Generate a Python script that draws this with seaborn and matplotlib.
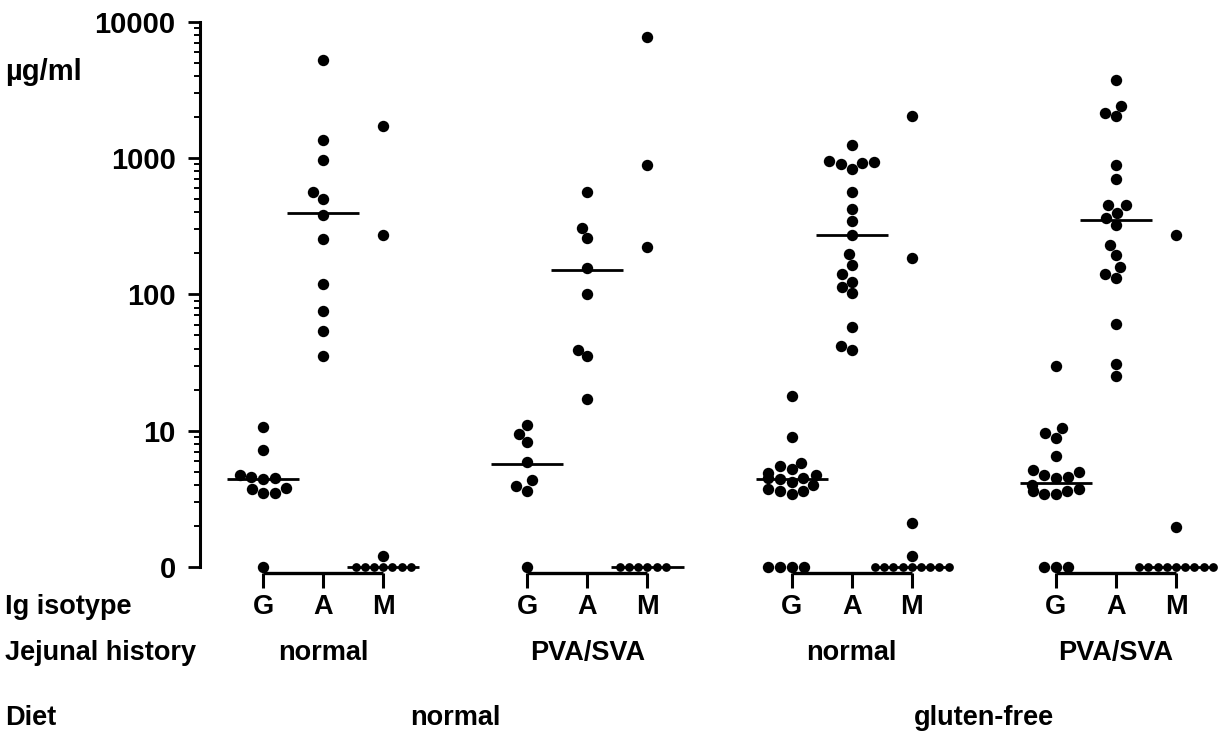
import numpy as np
import pandas as pd
import matplotlib
matplotlib.use("Agg")
import matplotlib.pyplot as plt
from matplotlib import transforms
from matplotlib.ticker import FixedLocator, FixedFormatter, NullFormatter
import seaborn as sns

# ---------------- data ----------------
history_labels = ["normal", "PVA/SVA", "normal", "PVA/SVA"]
diet_labels = ["normal", "gluten-free"]
isotypes = ["G", "A", "M"]
y_tick_values = [1, 10, 100, 1000, 10000]
y_tick_labels = ["0", "10", "100", "1000", "10000"]

g_values = [
    [10.7, 7.2, 4.7, 4.6, 4.5, 4.4, 3.8, 3.7, 3.5, 3.5, 0],
    [10.9, 9.5, 8.3, 5.9, 4.3, 3.9, 3.6, 0],
    [18.0, 8.9, 5.8, 5.5, 5.2, 4.9, 4.7, 4.5, 4.5, 4.4, 4.2, 4.0, 3.7, 3.6, 3.6, 3.4, 0, 0, 0, 0],
    [30.0, 10.4, 9.6, 8.8, 6.5, 5.1, 5.0, 4.7, 4.6, 4.5, 4.0, 3.7, 3.6, 3.6, 3.4, 3.4, 0, 0, 0],
]
a_values = [
    [5230, 1360, 975, 565, 505, 380, 257, 119, 76, 54, 35],
    [566, 308, 260, 156, 101, 39, 35, 17],
    [1240, 950, 930, 920, 900, 830, 566, 427, 343, 275, 199, 165, 140, 124, 113, 102, 58, 42, 39],
    [3730, 2410, 2160, 2030, 884, 706, 455, 452, 397, 365, 325, 232, 196, 158, 142, 132, 61, 31, 25],
]
m_values = [
    [1710, 273, 1.2, 0, 0, 0, 0, 0, 0, 0],
    [7770, 884, 222, 0, 0, 0, 0, 0, 0],
    [2040, 186, 2.1, 1.2, 0, 0, 0, 0, 0, 0, 0, 0, 0],
    [275, 1.95, 0, 0, 0, 0, 0, 0, 0, 0, 0],
]
g_medians = [4.4, 5.7, 4.4, 4.15]
a_medians = [397, 150, 275, 354]
m_medians = [0, 0, 0, 0]

ZERO_AT = 1.0          # "0" is drawn at the foot of the log axis
GROUP_STEP = 4.4       # spacing between the four G-A-M blocks

# ---------------- tidy table ----------------
rows = []
for gi in range(4):
    for ji, vals in enumerate([g_values[gi], a_values[gi], m_values[gi]]):
        for v in vals:
            rows.append(dict(group=gi, iso=isotypes[ji],
                             pos=gi * GROUP_STEP + ji, value=v))
df = pd.DataFrame(rows)
df["plot"] = np.where(df["value"] > 0, df["value"], ZERO_AT)

# ---------------- figure ----------------
sns.set_style("white")
plt.rcParams["font.family"] = ["Liberation Sans", "DejaVu Sans"]
plt.rcParams["font.weight"] = "bold"
for k in ["text.color", "axes.edgecolor", "xtick.color", "ytick.color", "axes.labelcolor"]:
    plt.rcParams[k] = "black"

FS = 19.5
FS_Y = 21

fig = plt.figure(figsize=(12.19, 7.32), dpi=100)
ax = fig.add_axes([200 / 1219, 1 - 573 / 732, 1019 / 1219, 551 / 732])
ax.set_yscale("log")

nonzero = df[df["value"] > 0]
g_zero = df[(df["value"] == 0) & (df["iso"] != "M")]
m_zero = df[(df["value"] == 0) & (df["iso"] == "M")]

sns.swarmplot(data=nonzero, x="pos", y="plot", native_scale=True, orient="x",
              color="black", size=8.2, linewidth=0, ax=ax, warn_thresh=1)
sns.swarmplot(data=g_zero, x="pos", y="plot", native_scale=True, orient="x",
              color="black", size=8.2, linewidth=0, ax=ax, warn_thresh=1)
sns.swarmplot(data=m_zero, x="pos", y="plot", native_scale=True, orient="x",
              color="black", size=6.3, linewidth=0, ax=ax, warn_thresh=1)

# median lines
for gi in range(4):
    for ji, med in enumerate([g_medians[gi], a_medians[gi], m_medians[gi]]):
        p = gi * GROUP_STEP + ji
        yv = med if med > 0 else ZERO_AT
        ax.hlines(yv, p - 0.6, p + 0.6, color="black", lw=2, zorder=3)

# axes styling
ax.set_xlim(-1.05, 15.915)
ax.set_ylim(0.9, 10000)
for s in ["top", "right", "bottom"]:
    ax.spines[s].set_visible(False)
ax.spines["left"].set_linewidth(2.2)
ax.spines["left"].set_color("black")
ax.spines["left"].set_bounds(1, 10000)

ax.yaxis.set_major_locator(FixedLocator(y_tick_values))
ax.yaxis.set_major_formatter(FixedFormatter(y_tick_labels))
minor = [k * 10 ** d for d in range(0, 4) for k in range(2, 10)]
ax.yaxis.set_minor_locator(FixedLocator(minor))
ax.yaxis.set_minor_formatter(NullFormatter())
ax.tick_params(axis="y", which="major", direction="out", length=8.5, width=2,
               pad=9, labelsize=FS_Y, left=True, colors="black")
ax.tick_params(axis="y", which="minor", direction="out", length=4, width=1.4,
               left=True, colors="black")

positions = [gi * GROUP_STEP + ji for gi in range(4) for ji in range(3)]
ax.set_xticks(positions)
ax.set_xticklabels(isotypes * 4)
ax.tick_params(axis="x", which="major", direction="out", length=10.8, width=2.2,
               pad=4, labelsize=FS, bottom=True, colors="black")
for lab in ax.get_xticklabels() + ax.get_yticklabels():
    lab.set_fontweight("bold")
ax.set_xlabel("")
ax.set_ylabel("")

# bracket under each block
xt = ax.get_xaxis_transform()
for gi in range(4):
    ax.plot([gi * GROUP_STEP, gi * GROUP_STEP + 2], [0, 0], transform=xt,
            color="black", lw=2.4, clip_on=False, solid_capstyle="butt")

# row labels
def fy(py):
    return 1 - py / 732

fig.text(5 / 1219, fy(72), "µg/ml", ha="left", va="center", fontsize=FS + 1.5, fontweight="bold")
fig.text(5 / 1219, fy(607), "Ig isotype", ha="left", va="center", fontsize=FS, fontweight="bold")
fig.text(5 / 1219, fy(653), "Jejunal history", ha="left", va="center", fontsize=FS, fontweight="bold")
fig.text(5 / 1219, fy(718), "Diet", ha="left", va="center", fontsize=FS, fontweight="bold")

bt = transforms.blended_transform_factory(ax.transData, fig.transFigure)
for gi, lab in enumerate(history_labels):
    ax.text(gi * GROUP_STEP + 1, fy(653), lab, transform=bt, ha="center", va="center",
            fontsize=FS, fontweight="bold")
for di, lab in enumerate(diet_labels):
    xc = (2 * di * GROUP_STEP + 1 + (2 * di + 1) * GROUP_STEP + 1) / 2
    ax.text(xc, fy(718), lab, transform=bt, ha="center", va="center",
            fontsize=FS, fontweight="bold")

fig.savefig("out.png", dpi=100)
